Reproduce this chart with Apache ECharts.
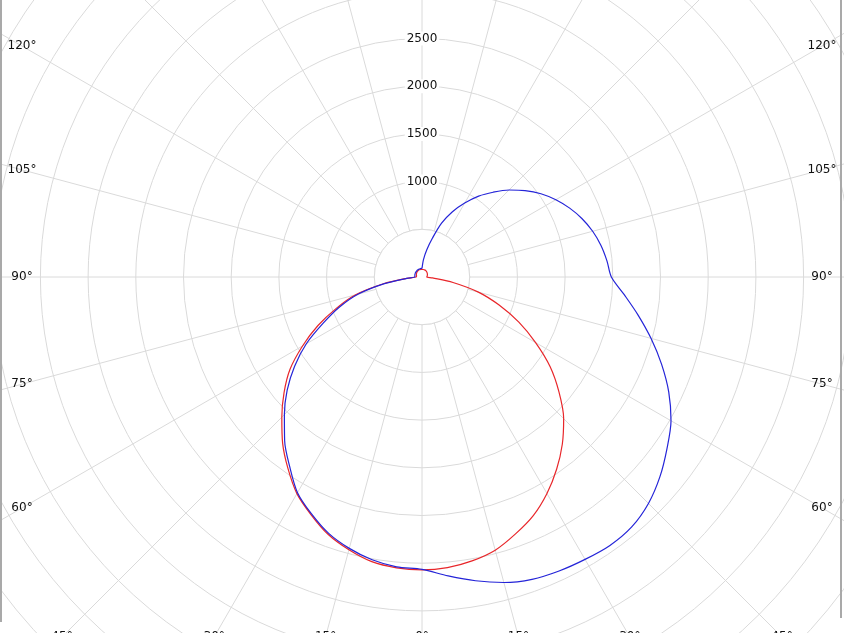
<!DOCTYPE html>
<html>
<head>
<meta charset="utf-8">
<script src="https://cdn.jsdelivr.net/npm/echarts@6/dist/echarts.min.js"></script>
<style>
  html, body { margin: 0; padding: 0; background: #fff; }
  #chart { position: relative; width: 844px; height: 633px; }
  .edge { position: absolute; top: 0; width: 2px; background: #a9a9a9; }
</style>
</head>
<body>
<div id="chart"></div>
<div class="edge" style="left:0;height:622px"></div>
<div class="edge" style="left:840px;height:618px"></div>
<script>
// gamma angles (0 = nadir), 5 degree steps
var gammas = [0, 5, 10, 15, 20, 25, 30, 35, 40, 45, 50, 55, 60, 65, 70, 75, 80, 85, 90,
  95, 100, 105, 110, 115, 120, 125, 130, 135, 140, 145, 150, 155, 160, 165, 170, 175, 180]

// intensities, left half and right half of each plane
var redLeft = [3070, 3060, 3030, 2960, 2873, 2750, 2622, 2450, 2273, 2078, 1888, 1690, 1446,
  1203, 953, 720, 410, 160, 60, 55, 58, 60, 62, 65, 67, 70, 72, 74, 76, 78, 79, 80, 80, 80, 80, 80, 80]
var redRight = [3070, 3058, 3022, 2965, 2866, 2760, 2620, 2460, 2288, 2100, 1874, 1640, 1375,
  1120, 860, 612, 330, 110, 50, 52, 55, 58, 60, 63, 65, 68, 70, 72, 74, 76, 78, 79, 80, 80, 80, 80, 80]
var blueLeft = [3065, 3050, 3010, 2945, 2860, 2740, 2610, 2420, 2240, 2040, 1845, 1630, 1400,
  1140, 920, 690, 400, 160, 75, 75, 76, 78, 79, 80, 81, 82, 83, 84, 85, 86, 87, 87, 88, 88, 89, 90, 90]
var blueRight = [3065, 3145, 3233, 3315, 3372, 3400, 3418, 3435, 3420, 3357, 3256, 3135, 3014,
  2854, 2672, 2485, 2300, 2128, 1985, 1946, 1905, 1852, 1786, 1708, 1620, 1522, 1410, 1290,
  1160, 1035, 895, 755, 600, 420, 290, 185, 90]

// axis labels
var radiusLabels = [1000, 1500, 2000, 2500]
var angleLabels = [0, 15, 30, 45, 60, 75, 90, 105, 120]
var innerRing = 500   // radial grid lines start here

// polar angle: 0 at top, clockwise; left half = 180 + g, right half = 180 - g
function curve(left, right) {
    var pts = []
    for (var i = gammas.length - 1; i >= 0; i--) pts.push([right[i], 180 - gammas[i]])
    for (var j = 1; j < gammas.length; j++) pts.push([left[j], 180 + gammas[j]])
    return pts
}

var angleData = []
angleLabels.forEach(function (g) {
    angleData.push([1000, 180 - g, g + '°'])
    if (g !== 0) angleData.push([1000, 180 + g, g + '°'])
})

var gridColor = '#dadada'
var chart = echarts.init(document.getElementById('chart'))
chart.setOption({
    animation: false,
    polar: { center: [422, 277], radius: 572.4 },
    angleAxis: {
        type: 'value', min: 0, max: 360, interval: 15, startAngle: 90, clockwise: true,
        axisLine: { show: false }, axisTick: { show: false }, axisLabel: { show: false },
        splitLine: { show: true, lineStyle: { color: gridColor, width: 1 } }
    },
    radiusAxis: {
        type: 'value', min: 0, max: 6000, interval: 500,
        axisLine: { show: false }, axisTick: { show: false }, axisLabel: { show: false },
        splitLine: { show: true, lineStyle: { color: gridColor, width: 1 } }
    },
    series: [
        {
            // blank centre disc, radial lines start at the inner ring
            type: 'custom', coordinateSystem: 'polar', silent: true, z: 1,
            data: [[innerRing, 0]],
            renderItem: function (params, api) {
                var c = api.coord([0, 0])
                var p = api.coord([api.value(0), 0])
                return {
                    type: 'circle',
                    shape: { cx: c[0], cy: c[1], r: Math.hypot(p[0] - c[0], p[1] - c[1]) },
                    style: { fill: '#fff', stroke: gridColor, lineWidth: 1 }
                }
            }
        },
        {
            type: 'line', coordinateSystem: 'polar', showSymbol: false, silent: true,
            smooth: 0.3,
            data: curve(redLeft, redRight),
            lineStyle: { color: '#e8262a', width: 1.2 }, z: 3
        },
        {
            type: 'line', coordinateSystem: 'polar', showSymbol: false, silent: true,
            smooth: 0.3,
            data: curve(blueLeft, blueRight),
            lineStyle: { color: '#2424d8', width: 1.2 }, z: 4
        },
        {
            // radius labels along the top ray
            type: 'custom', coordinateSystem: 'polar', silent: true, z: 5,
            data: radiusLabels.map(function (v) { return [v, 0] }),
            renderItem: function (params, api) {
                var p = api.coord([api.value(0), api.value(1)])
                return {
                    type: 'text',
                    style: {
                        text: String(radiusLabels[params.dataIndex]), x: p[0], y: p[1],
                        align: 'center', verticalAlign: 'middle',
                        font: '12px "DejaVu Sans"', fill: '#111',
                        backgroundColor: '#fff', padding: [1, 2]
                    }
                }
            }
        },
        {
            // angle labels where each ray meets the frame
            type: 'custom', coordinateSystem: 'polar', silent: true, z: 5,
            data: angleData,
            renderItem: function (params, api) {
                var a = api.value(1)
                var c = api.coord([0, a])
                var p = api.coord([1000, a])
                var dx = p[0] - c[0], dy = p[1] - c[1]
                var w = api.getWidth(), h = api.getHeight()
                var t = Infinity
                if (dx < -1e-6) t = Math.min(t, (22 - c[0]) / dx)
                if (dx > 1e-6) t = Math.min(t, (w - 22 - c[0]) / dx)
                if (dy > 1e-6) t = Math.min(t, (h + 4 - c[1]) / dy)
                return {
                    type: 'text',
                    style: {
                        text: angleData[params.dataIndex][2], x: c[0] + dx * t, y: c[1] + dy * t,
                        align: 'center', verticalAlign: 'middle',
                        font: '12px "DejaVu Sans"', fill: '#111'
                    }
                }
            }
        }
    ]
})
</script>
</body>
</html>
